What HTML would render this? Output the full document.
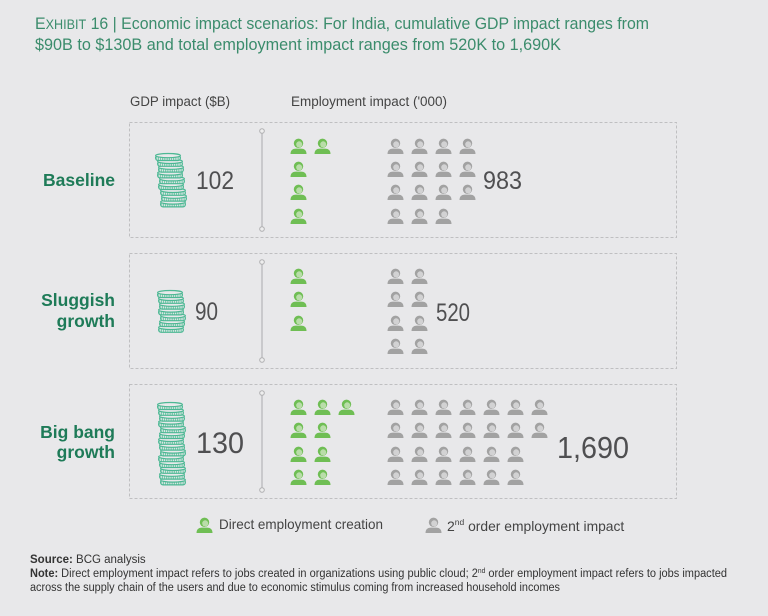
<!DOCTYPE html>
<html>
<head>
<meta charset="utf-8">
<style>
  html,body{margin:0;padding:0;background:#e8e8ea;}
  body{width:768px;height:616px;overflow:hidden;}
  svg{display:block;}
  text{font-family:"Liberation Sans", Arial, sans-serif;}
</style>
</head>
<body>
<svg width="768" height="616" viewBox="0 0 768 616" xmlns="http://www.w3.org/2000/svg">
  <defs>
    <pattern id="hatch" patternUnits="userSpaceOnUse" width="2.2" height="10">
      <rect width="2.2" height="10" fill="#e8e9eb"/>
      <line x1="1.1" y1="0" x2="1.1" y2="10" stroke="#5cc19d" stroke-width="1"/>
    </pattern>
    <g id="coin">
      <rect x="0.6" y="2.5" width="24.8" height="5" rx="2.5" fill="url(#hatch)" stroke="#4db894" stroke-width="1.2"/>
      <ellipse cx="13" cy="2.6" rx="12.4" ry="2.1" fill="#e8e9eb" stroke="#4db894" stroke-width="1.2"/>
    </g>
    <g id="pg">
      <path d="M0.5,16 C0.5,12 3,10.6 6,10.6 L11,10.6 C14,10.6 16.5,12 16.5,16 Z" fill="#6fbe54"/>
      <circle cx="8.5" cy="5.3" r="4.7" fill="#6fbe54"/>
      <ellipse cx="9.2" cy="6.4" rx="3" ry="3.1" fill="#b9dda9"/>
    </g>
    <g id="pr">
      <path d="M0.5,16 C0.5,12 3,10.6 6,10.6 L11,10.6 C14,10.6 16.5,12 16.5,16 Z" fill="#a2a2a2"/>
      <circle cx="8.5" cy="5.3" r="4.7" fill="#a2a2a2"/>
      <ellipse cx="9.2" cy="6.4" rx="3" ry="3.1" fill="#d2d2d3"/>
    </g>
  </defs>

  <!-- Title -->
  <text x="35" y="29" font-size="17" fill="#3b8c6c" textLength="614" lengthAdjust="spacingAndGlyphs">E<tspan font-size="13.5">XHIBIT</tspan> 16 | Economic impact scenarios: For India, cumulative GDP impact ranges from</text>
  <text x="35" y="50" font-size="17" fill="#3b8c6c" textLength="526" lengthAdjust="spacingAndGlyphs">$90B to $130B and total employment impact ranges from 520K to 1,690K</text>

  <!-- Headers -->
  <text x="130" y="106" font-size="13.5" fill="#444" textLength="100" lengthAdjust="spacingAndGlyphs">GDP impact ($B)</text>
  <text x="291" y="106" font-size="13.5" fill="#444" textLength="156" lengthAdjust="spacingAndGlyphs">Employment impact ('000)</text>

  <!-- Boxes -->
  <g fill="none" stroke="#bfbfc1" stroke-width="1" stroke-dasharray="3,2">
    <rect x="129.5" y="122.5" width="547" height="115"/>
    <rect x="129.5" y="253.5" width="547" height="115"/>
    <rect x="129.5" y="384.5" width="547" height="114"/>
  </g>

  <!-- Vertical lines -->
  <g stroke="#b5b5b7" stroke-width="1.2">
    <line x1="262" y1="131" x2="262" y2="229"/>
    <line x1="262" y1="262" x2="262" y2="360"/>
    <line x1="262" y1="393" x2="262" y2="490"/>
  </g>
  <g fill="#eeeeee" stroke="#b0b0b2" stroke-width="1">
    <circle cx="262" cy="131" r="2.3"/><circle cx="262" cy="229" r="2.3"/>
    <circle cx="262" cy="262" r="2.3"/><circle cx="262" cy="360" r="2.3"/>
    <circle cx="262" cy="393" r="2.3"/><circle cx="262" cy="490" r="2.3"/>
  </g>

  <!-- Row labels -->
  <g font-size="17.5" font-weight="bold" fill="#1e7b58" text-anchor="end">
    <text x="115" y="186">Baseline</text>
    <text x="115" y="306">Sluggish</text>
    <text x="115" y="327">growth</text>
    <text x="115" y="438">Big bang</text>
    <text x="115" y="458">growth</text>
  </g>

  <!-- Coins box1 -->
  <use href="#coin" x="160" y="199.4"/>
  <use href="#coin" x="161" y="193.6"/>
  <use href="#coin" x="160" y="187.8"/>
  <use href="#coin" x="158" y="182"/>
  <use href="#coin" x="159" y="176.2"/>
  <use href="#coin" x="157" y="170.4"/>
  <use href="#coin" x="158" y="164.6"/>
  <use href="#coin" x="157" y="158.8"/>
  <use href="#coin" x="155" y="153"/>

  <!-- Coins box2 -->
  <use href="#coin" x="158" y="324.8"/>
  <use href="#coin" x="159" y="319"/>
  <use href="#coin" x="160" y="313.2"/>
  <use href="#coin" x="158" y="307.4"/>
  <use href="#coin" x="159" y="301.6"/>
  <use href="#coin" x="158" y="295.8"/>
  <use href="#coin" x="157" y="290"/>

  <!-- Coins box3 -->
  <use href="#coin" x="160" y="477.4"/>
  <use href="#coin" x="159" y="471.6"/>
  <use href="#coin" x="160" y="465.8"/>
  <use href="#coin" x="159" y="460"/>
  <use href="#coin" x="158" y="454.2"/>
  <use href="#coin" x="160" y="448.4"/>
  <use href="#coin" x="159" y="442.6"/>
  <use href="#coin" x="158" y="436.8"/>
  <use href="#coin" x="159" y="431"/>
  <use href="#coin" x="160" y="425.2"/>
  <use href="#coin" x="158" y="419.4"/>
  <use href="#coin" x="159" y="413.6"/>
  <use href="#coin" x="158" y="407.8"/>
  <use href="#coin" x="157" y="402"/>

  <!-- Numbers -->
  <g fill="#4f4f51">
    <text x="196" y="189" font-size="25" textLength="38" lengthAdjust="spacingAndGlyphs">102</text>
    <text x="483" y="189" font-size="25" textLength="39" lengthAdjust="spacingAndGlyphs">983</text>
    <text x="195" y="320" font-size="25" textLength="23" lengthAdjust="spacingAndGlyphs">90</text>
    <text x="436" y="321" font-size="25" textLength="34" lengthAdjust="spacingAndGlyphs">520</text>
    <text x="196" y="453" font-size="30" textLength="48" lengthAdjust="spacingAndGlyphs">130</text>
    <text x="557" y="458" font-size="31" textLength="72" lengthAdjust="spacingAndGlyphs">1,690</text>
  </g>

  <!-- Box1 people -->
  <use href="#pg" x="290" y="138"/><use href="#pg" x="314" y="138"/>
  <use href="#pg" x="290" y="161"/>
  <use href="#pg" x="290" y="184"/>
  <use href="#pg" x="290" y="208"/>

  <use href="#pr" x="387" y="138"/><use href="#pr" x="411" y="138"/><use href="#pr" x="435" y="138"/><use href="#pr" x="459" y="138"/>
  <use href="#pr" x="387" y="161"/><use href="#pr" x="411" y="161"/><use href="#pr" x="435" y="161"/><use href="#pr" x="459" y="161"/>
  <use href="#pr" x="387" y="184"/><use href="#pr" x="411" y="184"/><use href="#pr" x="435" y="184"/><use href="#pr" x="459" y="184"/>
  <use href="#pr" x="387" y="208"/><use href="#pr" x="411" y="208"/><use href="#pr" x="435" y="208"/>

  <!-- Box2 people -->
  <use href="#pg" x="290" y="268"/>
  <use href="#pg" x="290" y="291"/>
  <use href="#pg" x="290" y="315"/>

  <use href="#pr" x="387" y="268"/><use href="#pr" x="411" y="268"/>
  <use href="#pr" x="387" y="291"/><use href="#pr" x="411" y="291"/>
  <use href="#pr" x="387" y="315"/><use href="#pr" x="411" y="315"/>
  <use href="#pr" x="387" y="338"/><use href="#pr" x="411" y="338"/>

  <!-- Box3 people -->
  <use href="#pg" x="290" y="399"/><use href="#pg" x="314" y="399"/><use href="#pg" x="338" y="399"/>
  <use href="#pg" x="290" y="422"/><use href="#pg" x="314" y="422"/>
  <use href="#pg" x="290" y="446"/><use href="#pg" x="314" y="446"/>
  <use href="#pg" x="290" y="469"/><use href="#pg" x="314" y="469"/>

  <use href="#pr" x="387" y="399"/><use href="#pr" x="411" y="399"/><use href="#pr" x="435" y="399"/><use href="#pr" x="459" y="399"/><use href="#pr" x="483" y="399"/><use href="#pr" x="507" y="399"/><use href="#pr" x="531" y="399"/>
  <use href="#pr" x="387" y="422"/><use href="#pr" x="411" y="422"/><use href="#pr" x="435" y="422"/><use href="#pr" x="459" y="422"/><use href="#pr" x="483" y="422"/><use href="#pr" x="507" y="422"/><use href="#pr" x="531" y="422"/>
  <use href="#pr" x="387" y="446"/><use href="#pr" x="411" y="446"/><use href="#pr" x="435" y="446"/><use href="#pr" x="459" y="446"/><use href="#pr" x="483" y="446"/><use href="#pr" x="507" y="446"/>
  <use href="#pr" x="387" y="469"/><use href="#pr" x="411" y="469"/><use href="#pr" x="435" y="469"/><use href="#pr" x="459" y="469"/><use href="#pr" x="483" y="469"/><use href="#pr" x="507" y="469"/>

  <!-- Legend -->
  <use href="#pg" x="196" y="517"/>
  <text x="219" y="529" font-size="14" fill="#444" textLength="164" lengthAdjust="spacingAndGlyphs">Direct employment creation</text>
  <use href="#pr" x="425" y="517"/>
  <text x="447" y="531" font-size="14" fill="#444">2<tspan font-size="8.5" dy="-6">nd</tspan><tspan dy="6" textLength="160" lengthAdjust="spacingAndGlyphs"> order employment impact</tspan></text>

  <!-- Source / Note -->
  <text x="30" y="563" font-size="11.5" fill="#333"><tspan font-weight="bold">Source:</tspan> BCG analysis</text>
  <text x="30" y="577" font-size="11.5" fill="#333" textLength="697" lengthAdjust="spacingAndGlyphs"><tspan font-weight="bold">Note:</tspan> Direct employment impact refers to jobs created in organizations using public cloud; 2<tspan font-size="7" dy="-4">nd</tspan><tspan dy="4"> order employment impact refers to jobs impacted</tspan></text>
  <text x="30" y="591" font-size="11.5" fill="#333" textLength="530" lengthAdjust="spacingAndGlyphs">across the supply chain of the users and due to economic stimulus coming from increased household incomes</text>
</svg>
</body>
</html>
